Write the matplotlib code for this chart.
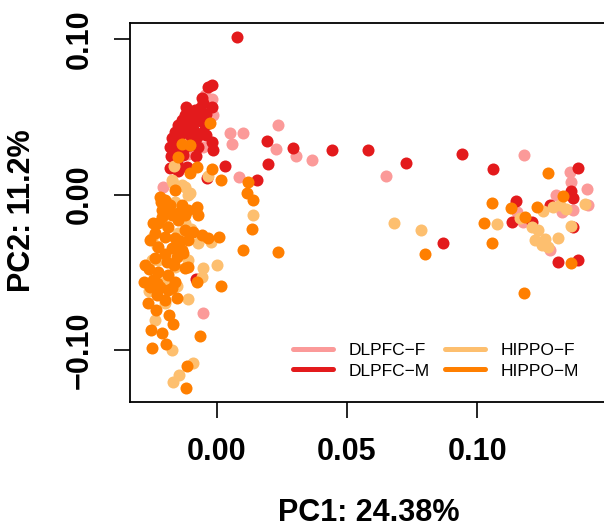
import numpy as np
import matplotlib
matplotlib.use("Agg")
import matplotlib.pyplot as plt
from matplotlib.lines import Line2D

plt.rcParams['font.family'] = ['Liberation Sans', 'DejaVu Sans']

# PCA scores per group (PC1, PC2)
dlpfc_m_pc1 = [0.0077, -0.0019, -0.0033, -0.0058, -0.0053, -0.0083, -0.0102, -0.0122, -0.0134, -0.0110,
               -0.0072, -0.0091, -0.0045, -0.0053, -0.0129, -0.0160, -0.0173, -0.0179, -0.0168, -0.0179,
               -0.0141, -0.0102, -0.0077, -0.0019, -0.0014, -0.0102, -0.0072, -0.0115, -0.0102, 0.0032,
               -0.0038, -0.0129, -0.0153, 0.0192, 0.0197, 0.0153, 0.0293, 0.0442, 0.0581, 0.0725,
               0.0942, 0.1061, 0.0870, 0.1147, 0.1134, 0.1211, 0.1279, 0.1385, 0.1360, 0.1366,
               0.1368, 0.1311, 0.1385, -0.0081, -0.0150, -0.0118, -0.0065, -0.0040, -0.0140, -0.0165,
               -0.0090, -0.0060, -0.0110, -0.0150, -0.0040, -0.0080, -0.0125, -0.0020, -0.0030, -0.0175,
               -0.0150]
dlpfc_m_pc2 = [0.1015, 0.0704, 0.0693, 0.0619, 0.0588, 0.0543, 0.0524, 0.0511, 0.0479, 0.0479,
               0.0500, 0.0460, 0.0447, 0.0404, 0.0428, 0.0404, 0.0363, 0.0307, 0.0243, 0.0170,
               0.0383, 0.0383, 0.0372, 0.0340, 0.0286, 0.0318, 0.0307, 0.0179, 0.0158, 0.0185,
               0.0104, 0.0254, 0.0211, 0.0344, 0.0196, 0.0093, 0.0299, 0.0286, 0.0286, 0.0201,
               0.0262, 0.0164, -0.0314, -0.0040, -0.0179, -0.0179, -0.0068, 0.0168, 0.0024, -0.0024,
               -0.0207, -0.0434, -0.0421, -0.0541, 0.0450, 0.0560, 0.0555, 0.0520, 0.0330, 0.0280,
               0.0420, 0.0470, 0.0440, 0.0370, 0.0380, 0.0250, 0.0300, 0.0560, 0.0460, 0.0250,
               0.0150]

dlpfc_f_pc1 = [0.0236, 0.0051, 0.0100, 0.0059, 0.0226, 0.0087, -0.0205, -0.0019, -0.0013, -0.0051,
               -0.0109, -0.0019, -0.0045, -0.0141, 0.0304, 0.0366, 0.0650, 0.1179, 0.1356, 0.1358,
               0.1420, 0.1301, 0.1151, 0.1177, 0.1368, 0.1324, 0.1426, 0.1279, -0.0054]
dlpfc_f_pc2 = [0.0445, 0.0394, 0.0397, 0.0325, 0.0291, 0.0114, 0.0050, 0.0612, 0.0511, 0.0307,
               0.0260, 0.0329, 0.0640, 0.0436, 0.0248, 0.0222, 0.0119, 0.0254, 0.0143, 0.0082,
               0.0033, -0.0003, -0.0111, -0.0175, -0.0100, -0.0111, -0.0068, -0.0357, -0.0764]

hippo_f_pc1 = [-0.0163, -0.0032, -0.0170, -0.0134, -0.0102, 0.0140, -0.0167, -0.0109, -0.0071, -0.0022,
               0.0000, -0.0054, -0.0058, -0.0109, -0.0151, -0.0237, -0.0173, -0.0090, -0.0145, -0.0167,
               -0.0122, -0.0173, -0.0224, -0.0160, -0.0141, -0.0237, -0.0198, -0.0249, -0.0190, -0.0120,
               -0.0150, -0.0230, -0.0100, -0.0200, -0.0260, -0.0200, -0.0160, -0.0250, -0.0110,
               0.0680, 0.0784, 0.1074, 0.1253, 0.1209, 0.1234, 0.1221, 0.1260, 0.1272, 0.1247,
               0.1309, 0.1317, 0.1340, 0.1292, 0.1360, 0.1413, 0.1164]
hippo_f_pc2 = [0.0185, 0.0119, 0.0093, 0.0061, 0.0008, -0.0132, 0.0072, -0.0003, -0.0314, -0.0304,
               -0.0453, -0.0475, -0.0529, -0.0674, -0.0588, -0.0807, -0.1000, -0.1082, -0.1161, -0.1204,
               0.0050, -0.0121, -0.0421, -0.0464, -0.0357, -0.0518, -0.0561, -0.0421, -0.0200, -0.0180,
               -0.0250, -0.0330, -0.0220, -0.0700, -0.0620, -0.0100, -0.0050, -0.0280, -0.0420,
               -0.0185, -0.0228, -0.0192, -0.0106, -0.0207, -0.0228, -0.0293, -0.0286, -0.0336, -0.0325,
               -0.0278, -0.0068, -0.0095, -0.0078, -0.0201, -0.0061, -0.0149]

hippo_m_pc1 = [-0.0026, -0.0134, -0.0102, -0.0147, -0.0077, -0.0019, 0.0017, -0.0102, 0.0119, 0.0115,
               0.0138, -0.0218, -0.0179, -0.0077, -0.0071, 0.0137, 0.0102, 0.0009, -0.0032, 0.0236,
               -0.0109, -0.0077, 0.0017, -0.0262, -0.0182, -0.0169, -0.0252, -0.0211, -0.0195, -0.0249,
               -0.0064, -0.0113, -0.0118,
               -0.0186, -0.0134, -0.0109, -0.0211, -0.0224, -0.0237, -0.0186, -0.0147, -0.0122, -0.0198,
               -0.0160, -0.0109, -0.0090, -0.0058, -0.0224, -0.0173, -0.0134, -0.0237, -0.0192, -0.0153,
               -0.0128, -0.0224, -0.0186, -0.0243, -0.0256, -0.0218, -0.0186, -0.0160, -0.0230,
               -0.0210, -0.0171, -0.0256, -0.0164, -0.0122, -0.0198, -0.0152, -0.0275, -0.0233,
               -0.0160, -0.0198, -0.0215, -0.0245, -0.0200, -0.0140, -0.0260, -0.0230, -0.0170,
               -0.0280, -0.0120, -0.0150,
               0.0798, 0.1027, 0.1058, 0.1055, 0.1128, 0.1179, 0.1272, 0.1228, 0.1183, 0.1328, 0.1360]
hippo_m_pc2 = [0.0458, 0.0323, 0.0318, 0.0243, 0.0179, 0.0164, 0.0093, 0.0136, 0.0078, 0.0008,
               -0.0035, -0.0014, -0.0068, -0.0078, -0.0132, -0.0224, -0.0357, -0.0271, -0.0278, -0.0368,
               -0.0468, -0.0561, -0.0588, -0.0700, -0.0775, -0.0833, -0.0871, -0.0893, -0.0961, -0.0985,
               -0.0908, -0.1103, -0.1246,
               -0.0078, -0.0068, -0.0100, -0.0143, -0.0185, -0.0250, -0.0207, -0.0164, -0.0228, -0.0271,
               -0.0282, -0.0293, -0.0239, -0.0260, -0.0336, -0.0346, -0.0357, -0.0410, -0.0432, -0.0400,
               -0.0378, -0.0496, -0.0518, -0.0550, -0.0593, -0.0593, -0.0614, -0.0561, -0.0646,
               -0.0100, -0.0132, -0.0293, -0.0453, -0.0132, -0.0678, -0.0666, -0.0453, -0.0743,
               0.0029, -0.0035, -0.0050, -0.0180, -0.0380, -0.0300, -0.0480, -0.0570, -0.0600,
               -0.0560, -0.0470, -0.0120,
               -0.0385, -0.0181, -0.0057, -0.0310, -0.0085, -0.0635, 0.0136, -0.0078, -0.0147, -0.0008, -0.0442]

groups = ["DLPFC\u2212F", "DLPFC\u2212M", "HIPPO\u2212F", "HIPPO\u2212M"]
colors = ["#FB9A99", "#E31A1C", "#FDBF6F", "#FF7F00"]
xticks = [0.00, 0.05, 0.10]
yticks = [-0.10, 0.00, 0.10]

fig = plt.figure(figsize=(6.04, 5.28), dpi=100)
ax = fig.add_axes([130 / 604, 1 - 402 / 528, 477.6 / 604, 379 / 528])

series = [(dlpfc_f_pc1, dlpfc_f_pc2), (dlpfc_m_pc1, dlpfc_m_pc2),
          (hippo_f_pc1, hippo_f_pc2), (hippo_m_pc1, hippo_m_pc2)]
for (px, py), c in zip(series, colors):
    ax.scatter(px, py, s=75, c=c, linewidths=0, zorder=2)

ax.set_xlim(-0.0333, 0.15)
ax.set_ylim(-0.1334, 0.1103)
ax.set_xticks(xticks)
ax.set_xticklabels([f"{v:.2f}" for v in xticks])
ax.set_yticks(yticks)
ax.set_yticklabels([f"{v:.2f}".replace("-", "\u2212") for v in yticks], rotation=90, va="center")
ax.tick_params(length=11.5, width=1.2, labelsize=22)
ax.tick_params(axis="x", pad=14)
ax.tick_params(axis="y", pad=14)
for lab in ax.get_xticklabels() + ax.get_yticklabels():
    lab.set_fontweight("bold")
for sp in ax.spines.values():
    sp.set_linewidth(1.3)

fig.text(369 / 604, 1 - 513 / 528, "PC1: 24.38%", ha="center", va="center",
         fontsize=22, fontweight="bold")
fig.text(22 / 604, 1 - 211 / 528, "PC2: 11.2%", ha="center", va="center",
         rotation=90, fontsize=22, fontweight="bold")

handles = [Line2D([0], [0], color=c, lw=3.6, solid_capstyle="round") for c in colors]
ax.legend(handles, groups, ncol=2, frameon=False, fontsize=12.5,
          loc="upper left", bbox_to_anchor=(293 / 604, 1 - 343 / 528),
          bbox_transform=fig.transFigure, borderpad=0, borderaxespad=0,
          handlelength=2.3, handletextpad=0.9, columnspacing=0.9, labelspacing=0.3)

fig.savefig("out.png", dpi=100)
